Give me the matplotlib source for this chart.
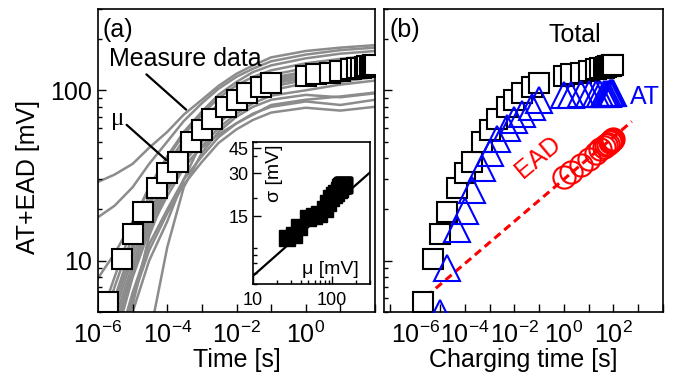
import matplotlib.pyplot as plt
from matplotlib.ticker import NullFormatter

plt.rcParams['font.family'] = ['Liberation Sans', 'DejaVu Sans']
plt.rcParams['mathtext.default'] = 'regular'

# charging / measurement times [s]
time = [2e-6, 5e-6, 1e-5, 2e-5, 5e-5, 1e-4, 2e-4, 5e-4, 1e-3, 2e-3, 5e-3, 1e-2, 2e-2, 5e-2, 1e-1,
        1, 2, 5, 10, 20, 30, 40, 50, 60, 70, 80, 90, 100]
# mean (mu) = total AT+EAD [mV]
total = [5.7, 10.3, 14.4, 19.2, 26.6, 32.7, 37.9, 49.8, 58.6, 68, 80, 88, 97, 105, 111,
         121, 124, 127, 130, 133, 135, 136, 137, 138, 139, 139.5, 140, 141]
at = [2.0, 3.0, 4.9, 9.0, 15.4, 19.7, 25.9, 34.9, 42.8, 52, 60, 67, 73, 80, 88,
      93.5, 94, 94.5, 95, 95, 95.5, 95.5, 95.5, 95.5, 96, 96, 96, 96]
ead_time = [1, 2, 5, 10, 20, 30, 40, 50, 60, 70, 80, 90, 100]
ead = [31, 33, 36.5, 39.5, 43, 45, 46.5, 47.5, 48.5, 49.5, 50.5, 51, 52]
ead_fit_t = [1.1e-6, 5.5e2]
ead_fit = [5.5, 65.6]

# individual measured curves
meas_time = [1e-6, 3e-6, 1e-5, 3e-5, 1e-4, 3e-4, 1e-3, 3e-3, 1e-2, 3e-2, 1e-1, 1, 10, 100]
meas = [
    [29, 32, 37, 46, 57, 72, 88, 106, 125, 140, 156, 170, 178, 184],
    [18, 21, 27, 37, 50, 66, 84, 102, 120, 134, 148, 162, 172, 178],
    [7.9, 11, 17, 27, 41, 57, 75, 94, 112, 128, 140, 154, 164, 170],
    [4.2, 8, 16, 27, 40, 55, 72, 90, 107, 120, 131, 144, 153, 160],
    [3.5, 7, 14, 24, 37, 51, 67, 83, 99, 112, 123, 135, 145, 152],
    [3, 6, 12.5, 22, 35, 48, 63, 79, 95, 108, 118, 129, 139, 147],
    [2.5, 5.5, 11.5, 21, 33, 46, 60, 76, 92, 105, 116, 126, 136, 144],
    [2.2, 5, 10.5, 19, 31, 44, 58, 73, 89, 102, 113, 122, 132, 140],
    [2, 4.5, 9.5, 18, 29, 42, 56, 70, 85, 98, 109, 119, 128, 136],
    [1.8, 4, 9, 17, 27, 40, 53, 67, 82, 95, 105, 115, 124, 131],
    [1.6, 3.6, 8.5, 16, 26, 38, 50, 64, 78, 90, 100, 110, 118, 125],
    [1.5, 3.3, 8, 15, 24, 35, 47, 60, 73, 84, 93, 100, 108, 114],
    [1.4, 2.6, 5.5, 14, 26, 36, 46, 55, 64, 72, 82, 88, 92, 97],
    [1.3, 2.8, 6.5, 12.5, 20, 30, 41, 53, 64, 73, 80, 86, 82, 88],
    [1.2, 2.5, 6, 11.5, 19, 28, 38, 49, 59, 67, 74, 79, 76, 80],
    [1, 2.2, 5, 10, 17, 30, 50, 70, 88, 100, 110, 118, 112, 120],
    [0.5, 1, 2, 3.5, 12, 27, 43, 57, 70, 80, 88, 94, 91, 96],
]

# inset: sigma vs mu
inset_mu = total[4:]
inset_sigma = [10.5, 11, 12.5, 14.5, 15, 15.5, 17, 18.5, 20, 21, 22, 23, 23.5, 24,
               24.5, 25, 25, 25, 25, 25, 25, 25, 25, 25]
mu_fit = [10, 300]
sigma_fit = [5.7, 30.5]

FS = 18

fig = plt.figure(figsize=(6.75, 3.79), dpi=100)
ax1 = fig.add_axes([0.1452, 0.1768, 0.4104, 0.7995])
ax2 = fig.add_axes([0.5689, 0.1768, 0.4133, 0.7995])
ins = fig.add_axes([0.3748, 0.2507, 0.1733, 0.3747])


def style(ax, size):
    for s in ax.spines.values():
        s.set_linewidth(1.2)
    ax.tick_params(which='both', direction='in', top=False, right=False, labelsize=size, width=1)
    ax.tick_params(which='major', length=6)
    ax.tick_params(which='minor', length=3)
    ax.xaxis.set_minor_formatter(NullFormatter())
    ax.yaxis.set_minor_formatter(NullFormatter())


# ---- panel (a)
for c in meas:
    ax1.plot(meas_time, c, color='#8c8c8c', lw=1.8, zorder=1)
ax1.plot(time, total, 's', ms=15, mfc='white', mec='black', mew=1.5, zorder=3)
ax1.set_xscale('log')
ax1.set_yscale('log')
ax1.set_xlim(1e-6, 1e2)
ax1.set_ylim(5, 300)
style(ax1, FS)
ax1.set_xticks([10.0**k for k in range(-6, 3)])
ax1.set_xticklabels(['$10^{%d}$' % k if k % 2 == 0 and k < 2 else '' for k in range(-6, 3)])
ax1.set_yticks([10, 100])
ax1.set_yticklabels(['10', '100'])
ax1.tick_params(axis='x', pad=7)
ax1.tick_params(axis='y', pad=4)
ax1.set_xlabel('Time [s]', fontsize=FS, labelpad=0)
ax1.set_ylabel('AT+EAD [mV]', fontsize=FS)
ax1.yaxis.set_label_coords(-0.21, 0.446)
ax1.text(0.072, 0.931, '(a)', transform=ax1.transAxes, fontsize=FS, ha='center', va='center')
ax1.text(0.314, 0.835, 'Measure data', transform=ax1.transAxes, fontsize=FS, ha='center', va='center')
ax1.text(0.072, 0.637, 'μ', transform=ax1.transAxes, fontsize=FS, ha='center', va='center',
         family=['Liberation Serif', 'DejaVu Serif'])
ax1.annotate('', xy=(3.5e-4, 77), xytext=(2.5e-5, 124),
             arrowprops=dict(arrowstyle='-', lw=1.6, color='black', shrinkA=0, shrinkB=0))
ax1.annotate('', xy=(9.3e-5, 39), xytext=(6.7e-6, 62.7),
             arrowprops=dict(arrowstyle='-', lw=1.6, color='black', shrinkA=0, shrinkB=0))

# ---- inset
ins.plot(mu_fit, sigma_fit, color='black', lw=1.6)
ins.plot(inset_mu, inset_sigma, 's', ms=11, color='black')
ins.set_xscale('log')
ins.set_yscale('log')
ins.set_xlim(10, 300)
ins.set_ylim(5, 50)
style(ins, 13)
ins.set_xticks([10, 100])
ins.set_xticklabels(['10', '100'])
ins.set_yticks([15, 30, 45])
ins.set_yticklabels(['15', '30', '45'])
ins.tick_params(axis='x', pad=6)
ins.tick_params(axis='y', pad=3)
ins.text(0.658, 0.099, 'μ [mV]', transform=ins.transAxes, fontsize=14, ha='center', va='center')
ins.text(0.18, 0.78, 'σ [mV]', transform=ins.transAxes, fontsize=14, ha='center', va='center',
         rotation=90)

# ---- panel (b)
ax2.plot(ead_fit_t, ead_fit, color='red', lw=2.2, ls=(0, (2.6, 1.6)), zorder=2)
ax2.plot(time, total, 's', ms=15, mfc='white', mec='black', mew=1.5, zorder=3)
ax2.plot(time, at, '^', ms=19, mfc='none', mec='blue', mew=1.5, zorder=4)
ax2.plot(ead_time, ead, 'o', ms=16, mfc='none', mec='red', mew=1.5, zorder=4)
ax2.set_xscale('log')
ax2.set_yscale('log')
ax2.set_xlim(5.5e-8, 1e4)
ax2.set_ylim(5, 300)
style(ax2, FS)
ax2.set_xticks([10.0**k for k in range(-7, 5)])
ax2.set_xticklabels(['$10^{%d}$' % k if k % 2 == 0 and -6 <= k <= 2 else '' for k in range(-7, 5)])
ax2.set_yticks([10, 100])
ax2.set_yticklabels([])
ax2.tick_params(axis='x', pad=7)
ax2.set_xlabel('Charging time [s]', fontsize=FS, labelpad=0)
ax2.text(0.075, 0.931, '(b)', transform=ax2.transAxes, fontsize=FS, ha='center', va='center')
ax2.text(0.685, 0.914, 'Total', transform=ax2.transAxes, fontsize=FS, ha='center', va='center')
ax2.text(0.937, 0.708, 'AT', transform=ax2.transAxes, fontsize=FS, ha='center', va='center',
         color='blue', clip_on=False)
ax2.text(0.552, 0.512, 'EAD', transform=ax2.transAxes, fontsize=FS, ha='center', va='center',
         color='red', rotation=40)

fig.savefig('out.png', dpi=100)
